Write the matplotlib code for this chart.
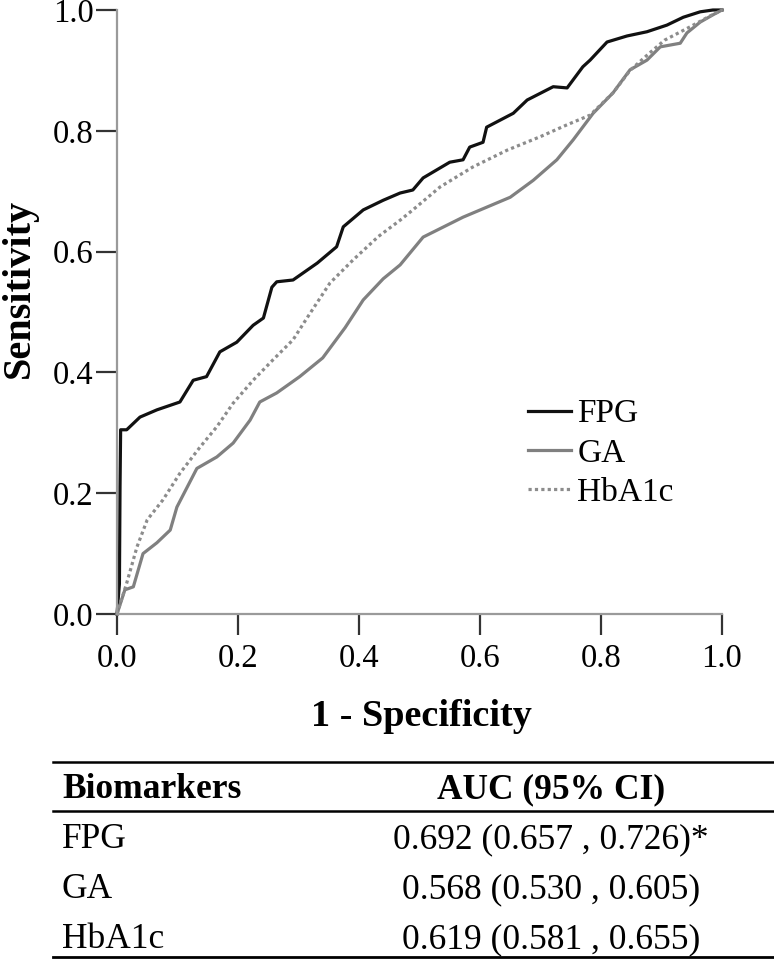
import matplotlib
matplotlib.use("Agg")
import matplotlib.pyplot as plt
from matplotlib.lines import Line2D

plt.rcParams['font.family'] = ['Liberation Serif', 'DejaVu Serif']

# ROC curves (1 - specificity, sensitivity)
fpg_x = [0.0, 0.004, 0.005, 0.006, 0.016, 0.038, 0.066, 0.104, 0.126, 0.148, 0.170, 0.198,
         0.225, 0.242, 0.256, 0.264, 0.291, 0.331, 0.363, 0.374, 0.407, 0.440, 0.468,
         0.489, 0.506, 0.550, 0.572, 0.583, 0.605, 0.611, 0.655, 0.678, 0.721, 0.744,
         0.770, 0.782, 0.810, 0.843, 0.876, 0.909, 0.936, 0.964, 0.985, 1.0]
fpg_y = [0.0, 0.05, 0.21, 0.305, 0.305, 0.326, 0.338, 0.351, 0.387, 0.393, 0.434, 0.450,
         0.478, 0.490, 0.541, 0.550, 0.553, 0.581, 0.608, 0.641, 0.669, 0.685, 0.697,
         0.702, 0.722, 0.748, 0.752, 0.773, 0.781, 0.806, 0.829, 0.851, 0.873, 0.871,
         0.906, 0.917, 0.947, 0.957, 0.964, 0.975, 0.988, 0.997, 1.0, 1.0]

ga_x = [0.0, 0.013, 0.027, 0.043, 0.066, 0.088, 0.099, 0.132, 0.165, 0.192, 0.220, 0.236,
        0.264, 0.302, 0.340, 0.377, 0.407, 0.440, 0.468, 0.506, 0.572, 0.650, 0.688,
        0.727, 0.754, 0.787, 0.820, 0.848, 0.876, 0.898, 0.931, 0.942, 0.964, 0.985, 1.0]
ga_y = [0.0, 0.040, 0.045, 0.100, 0.118, 0.139, 0.177, 0.241, 0.260, 0.283, 0.321, 0.351,
        0.366, 0.393, 0.424, 0.474, 0.520, 0.555, 0.578, 0.624, 0.657, 0.690, 0.718,
        0.752, 0.785, 0.829, 0.863, 0.901, 0.917, 0.939, 0.945, 0.962, 0.980, 0.992, 1.0]

hba_x = [0.0, 0.016, 0.033, 0.050, 0.076, 0.104, 0.137, 0.165, 0.192, 0.225, 0.258, 0.291,
         0.314, 0.352, 0.390, 0.432, 0.468, 0.489, 0.534, 0.588, 0.645, 0.699, 0.744,
         0.782, 0.820, 0.848, 0.876, 0.905, 0.947, 0.980, 1.0]
hba_y = [0.0, 0.051, 0.111, 0.156, 0.189, 0.233, 0.276, 0.310, 0.349, 0.387, 0.421, 0.454,
         0.490, 0.548, 0.586, 0.625, 0.652, 0.669, 0.707, 0.740, 0.768, 0.790, 0.810,
         0.826, 0.863, 0.900, 0.925, 0.950, 0.972, 0.990, 1.0]

ticks = [0.0, 0.2, 0.4, 0.6, 0.8, 1.0]

# table under the plot
markers = ['FPG', 'GA', 'HbA1c']
auc_text = ['0.692 (0.657 , 0.726)*', '0.568 (0.530 , 0.605)', '0.619 (0.581 , 0.655)']

W, H = 774, 963
fig = plt.figure(figsize=(W / 100, H / 100), dpi=100)
ax = fig.add_axes([117 / W, 1 - 614 / H, 605 / W, 604 / H])

ax.plot(fpg_x, fpg_y, color='#111111', lw=2.3, label='FPG', clip_on=False)
ax.plot(ga_x, ga_y, color='#808080', lw=2.3, label='GA', clip_on=False)
ax.plot(hba_x, hba_y, color='#8c8c8c', lw=2.3, ls=(0, (1, 1)), label='HbA1c', clip_on=False)

ax.set_xlim(0, 1)
ax.set_ylim(0, 1)
ax.set_xticks(ticks)
ax.set_yticks(ticks)
ax.set_xticklabels(['%.1f' % t for t in ticks])
ax.set_yticklabels(['%.1f' % t for t in ticks])
for s in ['top', 'right']:
    ax.spines[s].set_visible(False)
for s in ['left', 'bottom']:
    ax.spines[s].set_color('#9a9a9a')
    ax.spines[s].set_linewidth(1.6)
ax.tick_params(axis='both', direction='out', length=15, width=1.6, color='#333333',
               labelsize=23.5)
ax.tick_params(axis='x', pad=6)
ax.tick_params(axis='y', pad=2)

leg = ax.legend(loc='upper left', bbox_to_anchor=(528 / W, 1 - 399 / H),
                bbox_transform=fig.transFigure, frameon=False, fontsize=24,
                handlelength=1.3, handletextpad=0.18, labelspacing=0.26,
                borderpad=0, borderaxespad=0)

fig.text(29 / W, 1 - 288 / H, 'Sensitivity', rotation=90, rotation_mode='anchor',
         ha='center', va='baseline', fontsize=29, fontweight='bold')
fig.text(421 / W, 1 - 726 / H, '1 - Specificity', ha='center', va='baseline',
         fontsize=27.5, fontweight='bold')

# table lines and text
for yy, lw in [(762, 1.8), (811, 1.8), (957, 2.0)]:
    fig.add_artist(Line2D([53 / W, 1.0], [1 - yy / H] * 2, color='black', lw=lw))

fig.text(62 / W, 1 - 798 / H, 'Biomarkers', ha='left', va='baseline',
         fontsize=25.5, fontweight='bold')
fig.text(551 / W, 1 - 798 / H, 'AUC (95% CI)', ha='center', va='baseline',
         fontsize=25.5, fontweight='bold')
row_y = [848, 898, 948]
for name, txt, yy in zip(markers, auc_text, row_y):
    fig.text(62 / W, 1 - yy / H, name, ha='left', va='baseline', fontsize=25.5)
    fig.text(551 / W, 1 - yy / H, txt, ha='center', va='baseline', fontsize=25.5)

fig.savefig('out.png', dpi=100)
